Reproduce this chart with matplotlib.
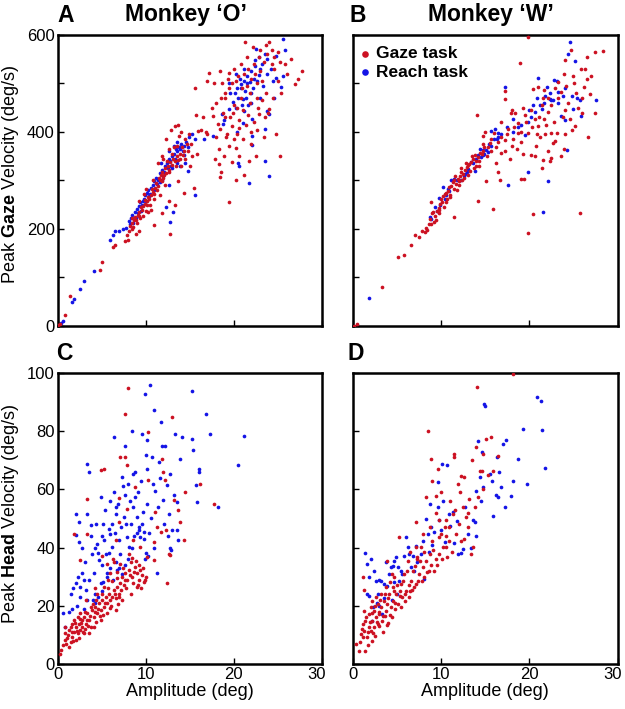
import numpy as np
import matplotlib
matplotlib.use("Agg")
import matplotlib.pyplot as plt
from matplotlib.transforms import ScaledTranslation

plt.rcParams['font.family'] = ['Liberation Sans', 'DejaVu Sans']
plt.rcParams['mathtext.fontset'] = 'custom'
plt.rcParams['mathtext.rm'] = 'Liberation Sans'
plt.rcParams['mathtext.bf'] = 'Liberation Sans:bold'

RED = '#cc1122'
BLUE = '#1414e6'

# ---- data: (amplitude deg, peak velocity deg/s) ----
# Monkey O, peak gaze velocity
gaze_O_gaze = [
    (0.1, 2), (0.3, 4), (0.8, 22), (1.4, 62), (4.8, 116), (5.0, 131), (6.3, 163), (6.5, 167),
    (7.6, 176), (7.9, 187), (8.1, 195), (8.2, 207), (8.4, 212), (8.5, 200), (8.7, 218), (8.8, 225),
    (9.0, 213), (9.1, 229), (9.3, 236), (9.4, 222), (9.6, 240), (9.7, 247), (9.9, 252), (10.0, 238),
    (10.2, 258), (10.3, 266), (10.5, 250), (10.6, 270), (10.8, 276), (10.9, 262), (11.1, 285),
    (11.2, 295), (11.4, 288), (11.6, 300), (11.7, 312), (11.9, 318), (12.0, 305), (12.2, 325),
    (12.3, 315), (12.5, 330), (12.6, 322), (12.8, 338), (13.0, 332), (13.1, 345), (13.3, 340),
    (13.5, 350), (13.7, 342), (13.9, 355), (14.1, 368), (14.3, 360), (14.5, 385), (14.7, 375),
    (13.2, 370), (12.9, 405), (13.3, 412), (13.7, 415), (14.0, 400), (12.7, 365), (12.3, 385),
    (11.8, 350), (11.4, 335), (10.8, 300), (10.3, 235), (9.8, 272), (8.0, 178), (9.2, 195),
    (10.9, 208), (11.9, 232), (12.6, 258), (12.8, 190), (13.3, 250), (14.4, 275), (13.7, 298),
    (15.5, 285), (15.0, 330), (15.3, 350), (15.8, 355), (15.9, 403), (16.3, 405), (15.7, 435),
    (15.6, 490), (16.8, 400), (14.0, 330), (14.5, 345),
    (8.6, 205), (8.9, 218), (9.3, 226), (9.5, 245), (9.9, 260), (10.1, 249), (10.4, 262),
    (10.7, 282), (11.0, 272), (11.3, 280), (11.5, 306), (11.9, 298), (12.1, 312), (12.4, 340),
    (12.7, 318), (13.0, 355), (13.4, 330), (13.6, 372), (13.9, 345), (14.2, 352), (14.8, 360),
    (15.1, 375), (14.9, 395), (13.8, 392), (12.2, 290), (11.6, 270), (10.6, 240), (9.7, 226),
    (8.9, 190), (8.4, 222), (9.2, 258), (10.0, 283), (12.0, 345),
    (17.2, 522), (18.4, 525), (19.5, 522), (21.3, 586), (23.6, 579), (24.0, 585), (27.7, 526),
    (27.3, 510), (26.9, 498), (19.5, 255), (20.3, 302), (21.2, 312), (22.5, 350), (21.7, 341),
    (18.3, 333), (18.5, 317), (18.4, 308), (18.9, 350), (20.2, 366), (20.6, 350), (24.0, 447),
    (23.9, 440), (17.6, 433), (18.2, 416), (18.4, 406), (19.1, 390), (19.8, 412), (20.6, 409),
    (21.4, 414), (22.9, 437), (22.0, 399), (17.5, 450), (18.0, 460), (18.6, 470), (19.0, 480),
    (19.4, 490), (19.8, 500), (20.2, 505), (20.5, 515), (20.9, 490), (21.2, 520), (21.6, 530),
    (22.0, 510), (22.3, 540), (22.6, 500), (23.0, 525), (23.4, 545), (23.8, 560), (22.8, 555),
    (24.3, 540), (24.6, 530), (25.2, 545), (25.8, 540), (26.5, 550), (25.0, 505), (23.7, 480),
    (22.6, 470), (21.8, 460), (21.0, 445), (20.4, 450), (19.6, 430), (18.8, 440), (19.2, 395),
    (20.0, 385), (21.9, 375), (22.3, 420), (23.2, 465), (19.0, 470), (18.0, 390), (17.9, 345),
    (20.6, 425), (21.5, 495), (22.4, 520), (24.3, 570), (23.2, 505), (20.0, 455), (25.4, 480),
    (16.9, 505), (17.8, 500), (18.7, 500), (19.3, 510), (20.0, 530), (20.8, 540), (21.5, 555),
    (22.2, 575), (23.0, 568), (24.5, 555), (25.0, 565), (26.0, 520), (19.0, 430), (19.9, 440),
    (20.8, 470), (21.8, 480), (22.7, 450), (23.5, 430), (24.4, 470), (20.4, 395), (21.0, 385),
    (19.5, 372), (18.3, 365), (23.4, 390), (24.8, 395), (22.6, 405), (21.6, 435), (25.2, 350),
    (19.8, 338), (17.0, 395), (16.5, 430),
]
reach_O_gaze = [
    (0.2, 4), (0.4, 7), (0.6, 10), (0.3, 2), (1.6, 50), (1.9, 55), (2.5, 76), (3.0, 93), (4.1, 113),
    (6.0, 177), (6.3, 187), (6.5, 196), (7.8, 203), (8.1, 217), (8.3, 222), (8.5, 228), (8.6, 212),
    (8.8, 235), (9.0, 242), (9.1, 232), (9.3, 248), (9.4, 255), (9.6, 250), (9.8, 262), (9.9, 270),
    (10.1, 275), (10.3, 280), (10.4, 268), (10.6, 285), (10.8, 290), (11.0, 298), (11.2, 305),
    (11.4, 300), (11.6, 315), (11.8, 322), (12.0, 310), (12.2, 330), (12.4, 335), (12.6, 345),
    (12.8, 340), (13.0, 350), (13.2, 355), (13.4, 365), (13.6, 360), (13.8, 370), (14.0, 375),
    (14.2, 360), (14.4, 352), (14.6, 380), (14.9, 390), (15.3, 395), (15.6, 386), (12.3, 245),
    (12.8, 215), (13.1, 235), (13.9, 330), (15.6, 270), (14.8, 320), (12.6, 290), (11.7, 335),
    (13.0, 325), (14.5, 335), (16.6, 385), (17.6, 392), (18.7, 437), (18.8, 416),
    (7.0, 195), (7.4, 200), (8.2, 210), (8.9, 222), (9.5, 238), (9.7, 258), (10.0, 258),
    (10.5, 272), (10.9, 280), (11.3, 292), (11.6, 296), (12.1, 318), (12.5, 325), (12.9, 330),
    (13.3, 345), (13.5, 335), (13.9, 365), (14.3, 372), (13.2, 372), (12.7, 360), (11.9, 300),
    (13.6, 380), (14.8, 370),
    (25.6, 592), (25.8, 568), (24.8, 557), (23.8, 550), (23.5, 561), (22.5, 571), (22.9, 554),
    (24.8, 512), (25.6, 516), (25.3, 492), (24.4, 505), (23.3, 495), (21.8, 502), (20.8, 499),
    (21.0, 468), (20.1, 481), (19.9, 461), (19.5, 447), (21.2, 443), (22.1, 426), (21.0, 419),
    (20.4, 399), (22.1, 392), (23.5, 406), (22.1, 374), (23.8, 444), (24.0, 437), (20.6, 330),
    (20.5, 337), (21.7, 295), (23.5, 340), (24.0, 309), (20.2, 520), (20.7, 510), (21.2, 530),
    (21.5, 515), (21.9, 525), (22.2, 490), (22.6, 505), (22.0, 480), (21.4, 470), (20.9, 455),
    (21.6, 455), (22.4, 535), (23.0, 530), (21.3, 485), (20.4, 490), (19.6, 480), (18.9, 425),
    (23.8, 520), (20.8, 490), (21.5, 500), (22.3, 510), (22.8, 518), (23.2, 540), (24.2, 530),
    (22.4, 548), (20.5, 470), (21.1, 505), (20.3, 450), (19.4, 500), (24.6, 470), (23.0, 470),
    (22.0, 460),
]

# Monkey W, peak gaze velocity
gaze_W_gaze = [
    (0.1, 0), (0.4, 5), (3.3, 80), (5.1, 142), (5.8, 147), (6.6, 167), (7.0, 188), (7.5, 184),
    (8.2, 194), (8.3, 203), (8.7, 220), (8.9, 255), (9.1, 234), (9.3, 227), (9.5, 237), (9.7, 244),
    (9.9, 251), (10.0, 261), (10.2, 268), (10.4, 272), (10.6, 275), (10.8, 279), (10.9, 286),
    (11.1, 289), (11.3, 296), (11.5, 300), (11.7, 293), (11.9, 303), (12.1, 310), (12.3, 317),
    (12.5, 314), (12.7, 322), (12.9, 327), (13.1, 331), (13.2, 334), (13.4, 338), (13.6, 345),
    (13.8, 352), (14.0, 341), (14.2, 348), (14.4, 357), (14.6, 355), (14.8, 360), (14.9, 370),
    (15.3, 369), (15.5, 377), (11.5, 224), (14.2, 258), (15.9, 241), (14.1, 434), (14.8, 391),
    (15.1, 298), (16.5, 317), (16.7, 302), (17.2, 360), (17.2, 467), (17.6, 407), (18.2, 386),
    (18.6, 365), (18.9, 542), (19.1, 303), (19.4, 303), (19.8, 192), (19.9, 595), (20.4, 230),
    (20.2, 353), (20.6, 350), (21.2, 389), (21.4, 326), (21.6, 343), (22.1, 360), (22.5, 347),
    (22.7, 378), (22.9, 382), (23.6, 350), (24.0, 396), (25.7, 232), (26.7, 389), (27.4, 440),
    (27.5, 564), (28.3, 567), (26.5, 555), (25.9, 529), (26.5, 510), (26.9, 478), (26.2, 492),
    (25.5, 450), (24.9, 516), (24.0, 549), (24.7, 570), (21.0, 492), (21.7, 486), (20.4, 488),
    (17.2, 485), (18.0, 446), (18.7, 419), (19.5, 434), (20.2, 446), (20.6, 426), (21.0, 412),
    (21.7, 427), (22.1, 441), (22.5, 455), (23.3, 469), (24.0, 446), (24.6, 427), (25.2, 413),
    (24.2, 495), (23.3, 503), (23.6, 483), (22.1, 469), (21.4, 455), (19.9, 398), (19.1, 379),
    (18.0, 372), (16.8, 356), (17.2, 384), (16.0, 398), (16.5, 379), (15.7, 386), (18.7, 398),
    (22.5, 398), (23.1, 397), (7.8, 195), (8.6, 210), (9.2, 215), (9.8, 232), (10.5, 255),
    (11.0, 265), (11.8, 280), (12.4, 300), (13.0, 312), (13.7, 325), (14.3, 330), (12.0, 290),
    (8.4, 198), (8.8, 210), (9.0, 232), (9.4, 218), (9.8, 240), (10.1, 255), (10.3, 245),
    (10.7, 262), (11.0, 270), (11.4, 282), (11.6, 310), (12.0, 298), (12.2, 325), (12.6, 305),
    (12.8, 335), (13.3, 320), (13.5, 350), (13.9, 330), (14.3, 340), (14.7, 375), (15.2, 350),
    (15.6, 360), (16.2, 370), (16.8, 390), (17.5, 395), (18.3, 410), (19.0, 400), (19.6, 420),
    (20.3, 410), (21.1, 430), (21.9, 415), (22.8, 420), (23.8, 430), (24.4, 460), (25.3, 480),
    (26.0, 470), (19.3, 355), (20.8, 372), (22.3, 340), (23.9, 365), (24.8, 405), (17.8, 345),
    (16.2, 335), (21.5, 470), (22.9, 490), (23.9, 520), (25.1, 500), (26.3, 530), (27.0, 515),
    (18.4, 440), (16.8, 420), (15.0, 400), (26.0, 440), (21.8, 395), (20.9, 395), (19.3, 450),
    (17.9, 440),
]
reach_W_gaze = [
    (1.8, 57), (8.7, 224), (8.9, 220), (9.3, 246), (9.7, 263), (10.2, 287), (10.8, 282),
    (10.9, 279), (11.1, 300), (11.5, 303), (12.6, 310), (12.7, 313), (13.1, 324), (13.8, 320),
    (14.2, 352), (14.8, 362), (14.9, 355), (15.3, 358), (15.7, 372), (16.1, 406), (16.3, 386),
    (16.5, 390), (17.2, 493), (17.6, 291), (18.7, 410), (19.1, 414), (19.5, 393), (19.8, 317),
    (20.0, 446), (20.4, 455), (21.0, 512), (21.2, 455), (21.6, 236), (21.8, 475), (22.1, 298),
    (22.3, 468), (22.5, 465), (22.7, 465), (22.8, 508), (23.1, 505), (23.3, 483), (23.6, 432),
    (24.0, 424), (24.3, 362), (24.4, 560), (24.6, 586), (25.2, 547), (25.0, 448), (25.8, 465),
    (25.9, 433), (27.6, 466), (15.7, 402), (16.5, 398), (18.2, 426), (20.2, 430), (24.8, 474),
    (23.8, 474), (21.4, 448), (20.6, 441), (13.4, 338), (14.8, 352), (15.1, 362), (14.4, 365),
    (9.5, 238), (10.4, 262), (10.5, 270), (11.8, 300), (12.2, 302), (12.9, 318), (13.6, 335),
    (14.0, 345), (14.5, 348), (15.4, 375), (16.0, 385), (16.8, 395), (17.5, 410), (18.2, 400),
    (19.8, 420), (20.9, 470), (21.7, 460), (22.4, 480), (23.3, 460), (24.1, 490), (25.4, 470),
    (22.0, 492), (9.9, 250),
]

# Monkey O, peak head velocity
gaze_O_head = [
    (0.3, 3.4), (0.6, 6.5), (0.8, 8.2), (0.9, 10.5), (1.1, 8.8), (1.3, 11.7), (1.5, 12.8),
    (1.5, 7.7), (1.7, 9.4), (1.9, 11.1), (1.9, 15.1), (2.1, 12.8), (2.1, 8.2), (2.3, 10.5),
    (2.3, 16.2), (2.4, 13.9), (2.6, 11.7), (2.6, 17.4), (2.8, 12.8), (2.8, 15.1), (3.0, 10.5),
    (3.2, 13.9), (3.4, 17.4), (3.6, 15.1), (3.8, 12.8), (3.9, 18.5), (4.1, 16.2), (4.3, 19.7),
    (4.5, 17.4), (4.7, 20.8), (4.9, 18.5), (5.1, 21.9), (5.3, 19.7), (5.5, 23.1), (5.6, 20.8),
    (5.8, 24.2), (6.0, 19.1), (6.2, 23.1), (6.4, 25.4), (6.6, 22.5), (6.8, 26.5), (7.0, 24.2),
    (7.1, 27.7), (7.3, 29.9), (7.5, 27.1), (7.7, 31.1), (7.9, 28.8), (8.1, 32.2), (8.3, 35.1),
    (8.5, 29.9), (8.6, 27.7), (8.8, 33.4), (9.0, 31.1), (9.2, 28.8), (9.4, 32.2), (9.6, 30.5),
    (9.8, 28.2), (8.1, 37.9), (7.1, 34.5), (6.4, 35.1), (5.6, 34.5), (3.2, 21.9), (2.6, 35.7),
    (1.9, 44.8), (3.4, 56.8), (4.9, 66.5), (7.7, 85.9), (8.0, 94.9), (7.1, 71.1), (7.7, 71.1),
    (7.9, 68.2), (8.8, 60.8), (7.9, 53.4), (7.0, 48.8), (6.6, 42.5), (8.6, 42.5), (9.4, 40.2),
    (10.2, 36.8), (10.9, 35.7), (10.3, 79.7), (10.3, 63.1), (11.3, 47.1), (11.1, 52.2),
    (11.7, 45.4), (11.9, 70.5), (12.0, 65.9), (12.2, 63.1), (12.4, 27.7), (12.6, 37.9),
    (12.8, 37.4), (13.0, 84.8), (13.2, 56.2), (13.7, 52.8), (13.9, 48.8), (14.4, 42.5),
    (14.5, 59.1), (16.2, 61.9), (17.7, 55.1),
    (0.4, 4.8), (0.9, 12.8), (1.3, 5.9), (1.7, 13.9), (3.0, 16.2), (3.8, 19.7), (4.5, 24.2),
    (5.3, 26.5), (6.0, 31.1), (6.8, 31.7), (4.9, 15.1), (4.1, 12.8), (3.6, 10.5), (5.6, 17.4),
    (6.6, 18.5), (7.3, 21.9), (8.3, 24.2), (9.0, 26.5), (9.9, 28.8), (2.4, 9.0), (3.1, 12.0),
    (4.4, 14.5), (5.2, 17.0), (6.1, 20.0), (7.0, 23.0),
    (1.0, 7.0), (1.2, 10.0), (1.6, 11.0), (1.8, 8.0), (2.0, 14.0), (2.2, 11.5), (2.5, 15.5),
    (2.7, 14.0), (2.9, 11.0), (3.1, 18.0), (3.3, 15.0), (3.5, 13.0), (3.7, 16.5), (4.0, 20.5),
    (4.2, 18.0), (4.4, 22.0), (4.6, 19.0), (4.8, 16.5), (5.0, 24.0), (5.4, 21.0), (5.7, 26.0),
    (5.9, 22.0), (6.2, 28.5), (6.5, 24.0), (6.7, 29.5), (6.9, 20.5), (7.2, 25.5), (7.4, 33.0),
    (7.6, 29.0), (7.8, 26.0), (8.2, 30.5), (8.4, 36.5), (8.7, 31.5), (8.9, 35.5), (9.1, 27.0),
    (9.3, 34.0), (9.5, 26.0), (9.7, 33.0), (10.0, 30.0), (6.3, 36.0), (5.0, 37.0), (4.2, 26.0),
    (5.7, 29.0), (3.3, 44.5), (5.3, 67.0), (7.0, 57.0), (11.0, 42.0), (12.3, 46.0),
]
reach_O_head = [
    (0.6, 17.4), (0.8, 12.8), (1.3, 17.9), (2.1, 51.7), (2.1, 44.2), (2.4, 48.8), (2.4, 41.9),
    (2.1, 27.7), (2.6, 26.5), (2.6, 23.1), (2.8, 31.1), (3.0, 28.8), (3.2, 25.4), (3.4, 68.8),
    (3.6, 65.9), (3.4, 51.7), (3.8, 47.7), (3.9, 37.9), (4.1, 31.1), (4.3, 24.2), (4.5, 41.3),
    (4.7, 35.7), (4.9, 27.7), (5.1, 34.1), (4.9, 57.4), (5.3, 42.5), (5.5, 37.9), (5.6, 31.1),
    (5.8, 46.5), (6.0, 44.8), (6.2, 40.2), (6.4, 77.9), (6.4, 59.1), (6.6, 53.9), (6.6, 51.7),
    (6.8, 32.2), (7.0, 42.5), (7.1, 37.9), (7.3, 64.2), (7.5, 50.5), (7.7, 74.9), (7.8, 48.2),
    (7.9, 43.6), (8.1, 40.2), (8.3, 48.2), (8.5, 80.2), (8.6, 65.4), (8.6, 53.9), (8.8, 57.4),
    (9.0, 50.5), (9.2, 47.1), (9.4, 43.6), (9.6, 79.1), (9.7, 52.2), (9.8, 45.4), (9.9, 92.8),
    (10.0, 71.7), (10.2, 67.1), (10.2, 76.9), (10.5, 95.7), (10.7, 71.1), (10.9, 87.1),
    (11.1, 59.5), (11.3, 31.1), (11.5, 69.5), (11.7, 83.1), (11.9, 74.9), (12.0, 56.2),
    (12.2, 74.9), (12.4, 61.6), (12.6, 51.7), (12.8, 65.4), (12.9, 39.1), (13.0, 45.9),
    (13.3, 79.1), (13.5, 55.5), (13.7, 42.5), (13.9, 70.5), (14.1, 77.9), (15.2, 93.9),
    (15.3, 77.3), (15.4, 73.4), (15.8, 55.8), (15.7, 61.5), (16.0, 66.9), (16.1, 66.0),
    (16.8, 85.8), (17.3, 79.0), (18.2, 53.9), (20.5, 68.5), (21.2, 78.3),
    (4.0, 22.0), (4.3, 21.0), (4.6, 23.0), (5.0, 25.0), (5.2, 28.0), (5.6, 30.0), (6.0, 33.0),
    (6.3, 29.0), (6.6, 35.0), (7.0, 33.0), (7.3, 31.0), (7.6, 34.0), (8.0, 36.0), (8.4, 40.0),
    (8.7, 44.0), (9.0, 45.0), (9.3, 46.0), (9.6, 48.0), (9.8, 43.0), (10.0, 38.0), (10.3, 37.0),
    (9.9, 36.0), (2.2, 20.0), (3.0, 19.0), (3.3, 22.0), (1.6, 19.0),
    (1.5, 24.0), (1.8, 26.0), (2.3, 30.0), (2.8, 40.0), (3.1, 35.0), (3.6, 29.0), (3.8, 44.0),
    (4.2, 40.0), (4.4, 48.0), (4.6, 38.0), (5.0, 44.0), (5.4, 53.0), (5.8, 38.0), (6.2, 48.0),
    (6.5, 45.0), (6.9, 55.0), (7.2, 47.0), (7.6, 58.0), (8.0, 62.0), (8.2, 56.0), (8.8, 66.0),
    (9.1, 59.0), (9.5, 63.0), (10.1, 55.0), (10.6, 50.0), (10.8, 62.0), (11.4, 54.0),
    (11.6, 64.0), (12.1, 48.0), (12.5, 44.0), (13.2, 58.0), (13.6, 46.0), (7.4, 61.0),
    (6.0, 56.0), (5.2, 48.0), (10.4, 45.0), (11.0, 40.0), (12.8, 40.0),
]

# Monkey W, peak head velocity
gaze_W_head = [
    (0.3, 6.9), (0.7, 4.6), (0.9, 10.3), (1.1, 13.7), (1.1, 9.2), (1.3, 18.3), (1.3, 11.5),
    (1.4, 4.6), (1.4, 14.9), (1.6, 9.2), (1.8, 12.6), (1.8, 17.2), (2.0, 19.5), (2.0, 11.5),
    (2.2, 14.9), (2.2, 21.8), (2.4, 12.6), (2.4, 18.3), (2.6, 16.0), (2.6, 22.9), (2.8, 13.7),
    (2.8, 20.6), (3.0, 17.2), (3.2, 19.5), (3.2, 24.1), (3.3, 14.9), (3.5, 21.8), (3.7, 18.3),
    (3.7, 26.3), (3.9, 20.6), (4.1, 24.1), (4.3, 19.5), (4.5, 26.3), (4.5, 21.8), (4.7, 29.8),
    (4.9, 24.1), (5.1, 20.6), (5.2, 43.5), (5.4, 27.5), (5.6, 22.9), (5.8, 30.9), (6.0, 25.2),
    (6.2, 35.5), (6.4, 22.9), (6.6, 28.6), (6.8, 32.1), (6.9, 26.3), (7.1, 48.7), (7.3, 36.7),
    (7.5, 30.9), (7.7, 40.1), (7.9, 33.2), (8.1, 29.8), (8.3, 35.5), (8.5, 80.2), (8.7, 37.8),
    (8.8, 70.4), (9.0, 42.4), (9.2, 32.1), (9.4, 57.8), (9.6, 67.0), (9.8, 37.8), (10.0, 44.7),
    (10.2, 40.1), (10.4, 47.0), (10.6, 49.3), (10.7, 36.7), (10.9, 42.4), (11.3, 51.5),
    (11.5, 72.2), (11.5, 71.0), (11.7, 44.7), (11.9, 61.9), (12.1, 59.0), (12.3, 42.4),
    (12.5, 53.8), (12.6, 64.1), (12.8, 50.4), (13.0, 47.0), (13.2, 56.7), (13.4, 37.8),
    (13.6, 40.1), (14.0, 74.5), (14.1, 95.3), (14.2, 57.3), (14.4, 66.4), (14.6, 66.4),
    (14.7, 72.2), (15.1, 77.3), (15.7, 77.9), (15.9, 66.4), (16.4, 71.6), (18.2, 99.7),
    (8.3, 57.3), (3.9, 35.5), (1.1, 29.8), (1.2, 25.4), (7.1, 40.1), (7.9, 44.7), (8.7, 47.0),
    (9.8, 49.3), (10.6, 40.1), (2.5, 9.5), (3.0, 13.0), (3.6, 16.5), (4.2, 17.0), (4.8, 19.0),
    (5.3, 23.5), (5.9, 21.5), (6.5, 25.0), (7.2, 27.5), (7.8, 28.5), (8.6, 32.0), (9.5, 34.0),
    (2.1, 8.0), (1.7, 6.5), (3.4, 11.0), (4.0, 14.0),
    (0.8, 7.5), (1.0, 12.0), (1.5, 16.0), (1.7, 11.0), (1.9, 14.5), (2.1, 17.5), (2.3, 10.5),
    (2.5, 20.0), (2.7, 14.5), (2.9, 18.0), (3.1, 22.0), (3.4, 16.5), (3.6, 24.0), (3.8, 13.5),
    (4.0, 22.5), (4.2, 28.0), (4.4, 16.0), (4.6, 25.0), (4.8, 21.0), (5.0, 27.0), (5.3, 25.0),
    (5.5, 19.5), (5.7, 28.5), (5.9, 24.0), (6.1, 32.0), (6.3, 27.0), (6.7, 25.5), (7.0, 33.5),
    (7.4, 28.5), (7.6, 35.5), (8.0, 38.5), (8.4, 31.5), (8.8, 34.0), (9.1, 39.0), (9.4, 36.0),
    (9.7, 43.5), (10.1, 36.0), (10.5, 44.0), (10.9, 47.0), (11.2, 38.5), (11.6, 53.0),
    (12.0, 48.0), (12.6, 43.0), (13.1, 52.0), (13.8, 54.0), (14.8, 60.0), (15.3, 65.0),
    (9.0, 63.0), (9.4, 52.0), (10.0, 59.0), (12.3, 64.5), (11.0, 56.0), (13.5, 70.0),
    (7.3, 36.0), (6.5, 38.5), (4.4, 31.0),
]
reach_W_head = [
    (1.4, 38.3), (1.6, 34.4), (2.0, 36.1), (1.8, 29.8), (1.6, 24.1), (1.8, 23.5), (2.4, 32.1),
    (2.6, 28.6), (3.0, 28.9), (3.2, 28.6), (2.8, 24.1), (2.2, 14.9), (3.3, 17.2), (3.7, 34.9),
    (3.9, 26.9), (4.1, 30.9), (4.3, 33.2), (4.5, 33.8), (4.7, 35.5), (4.9, 36.7), (5.1, 33.2),
    (5.2, 28.6), (5.4, 32.1), (5.6, 30.9), (6.0, 43.5), (6.2, 40.1), (6.4, 37.8), (6.6, 33.2),
    (6.9, 32.1), (7.3, 34.9), (7.7, 37.8), (7.9, 42.4), (8.1, 29.2), (8.3, 49.9), (8.5, 44.7),
    (8.8, 47.0), (9.2, 45.2), (9.6, 62.4), (9.8, 49.3), (10.2, 56.1), (10.4, 41.8), (10.7, 68.2),
    (10.9, 51.5), (11.3, 52.1), (11.5, 41.5), (11.9, 37.8), (12.3, 38.0), (12.5, 39.5),
    (13.0, 44.7), (13.6, 49.3), (13.8, 48.7), (14.0, 59.6), (14.2, 76.7), (14.4, 64.1),
    (14.6, 72.7), (14.7, 60.7), (14.9, 89.3), (15.0, 88.8), (15.5, 65.3), (15.9, 51.0),
    (16.3, 71.0), (16.4, 57.3), (16.6, 65.9), (16.8, 60.7), (17.0, 75.6), (17.2, 53.8),
    (17.3, 77.1), (17.9, 57.8), (18.2, 63.0), (18.7, 70.4), (19.3, 80.8), (19.7, 61.9),
    (20.9, 91.6), (21.3, 90.5), (21.4, 80.4), (21.8, 67.4), (10.1, 68.7), (9.6, 53.8),
    (8.7, 55.0), (2.9, 20.0), (4.4, 22.0), (5.0, 24.0), (3.5, 22.5),
    (2.3, 19.5), (2.7, 21.0), (3.5, 27.5), (4.6, 28.0), (5.8, 37.0), (6.8, 37.0), (7.2, 40.5),
    (8.6, 38.5), (9.0, 41.0), (10.0, 46.0), (11.0, 47.5), (11.8, 49.0), (12.7, 54.0),
    (13.4, 40.0), (13.9, 44.0), (14.5, 56.0), (15.8, 63.0), (16.2, 58.0),
]

x_ticks = [0, 10, 20, 30]
gaze_yticks = [0, 100, 200, 300, 400, 500, 600]
gaze_ylabels = ['0', '', '200', '', '400', '', '600']
head_yticks = [0, 20, 40, 60, 80, 100]

fig = plt.figure(figsize=(6.25, 7.09), dpi=100)
left_x, right_x, w = 0.092, 0.5648, 0.4232
top_y, bot_y, h = 0.5402, 0.0635, 0.4105

axA = fig.add_axes([left_x, top_y, w, h])
axB = fig.add_axes([right_x, top_y, w, h])
axC = fig.add_axes([left_x, bot_y, w, h])
axD = fig.add_axes([right_x, bot_y, w, h])


def scatter_pair(ax, red_pts, blue_pts):
    r = np.array(red_pts).T
    b = np.array(blue_pts).T
    hb = ax.scatter(b[0], b[1], s=7, c=BLUE, linewidths=0, zorder=2)
    hr = ax.scatter(r[0], r[1], s=7, c=RED, linewidths=0, zorder=3)
    return hr, hb


hrA, hbA = scatter_pair(axA, gaze_O_gaze, reach_O_gaze)
hrB, hbB = scatter_pair(axB, gaze_W_gaze, reach_W_gaze)
scatter_pair(axC, gaze_O_head, reach_O_head)
scatter_pair(axD, gaze_W_head, reach_W_head)

for ax in (axA, axB, axC, axD):
    ax.set_xlim(0, 30)
    ax.set_xticks(x_ticks)
    ax.tick_params(direction='in', length=4, width=1, labelsize=12, pad=2)
    for sp in ax.spines.values():
        sp.set_linewidth(1.8)

for ax in (axA, axB):
    ax.set_ylim(0, 600)
    ax.set_yticks(gaze_yticks)
    ax.set_xticklabels([])
axA.set_yticklabels(gaze_ylabels)
axB.set_yticklabels([])

for ax in (axC, axD):
    ax.set_ylim(0, 100)
    ax.set_yticks(head_yticks)
    ax.set_xlabel('Amplitude (deg)', fontsize=13, labelpad=1)
    # last tick label sits a little inside, as in the original
    lab = ax.get_xticklabels()[-1]
    lab.set_transform(lab.get_transform() + ScaledTranslation(-5 / 100, 0, fig.dpi_scale_trans))
axD.set_yticklabels([])

axA.set_ylabel('Peak $\\mathbf{Gaze}$ Velocity (deg/s)', fontsize=13)
axC.set_ylabel('Peak $\\mathbf{Head}$ Velocity (deg/s)', fontsize=13)
axA.yaxis.set_label_coords(-0.138, 0.52)
axC.yaxis.set_label_coords(-0.138, 0.515)

fig.text(66 / 625, 1 - 15 / 709, 'A', fontsize=16.5, fontweight='bold', ha='center', va='center')
fig.text(186 / 625, 1 - 15 / 709, 'Monkey \u2018O\u2019', fontsize=16.5, fontweight='bold',
         ha='center', va='center')
fig.text(358 / 625, 1 - 15 / 709, 'B', fontsize=16.5, fontweight='bold', ha='center', va='center')
fig.text(491 / 625, 1 - 15 / 709, 'Monkey \u2018W\u2019', fontsize=16.5, fontweight='bold',
         ha='center', va='center')
fig.text(64 / 625, 1 - 353 / 709, 'C', fontsize=16.5, fontweight='bold', ha='center', va='center')
fig.text(356 / 625, 1 - 353 / 709, 'D', fontsize=16.5, fontweight='bold', ha='center', va='center')

axB.legend([hrB, hbB], ['Gaze task', 'Reach task'], loc='upper left',
           bbox_to_anchor=(-0.025, 1.0), frameon=False,
           markerscale=1.8, handletextpad=0.15, borderaxespad=0.25, labelspacing=0.2,
           handlelength=0.9, prop={'weight': 'bold', 'size': 12.5})

fig.savefig('out.png', dpi=100)
